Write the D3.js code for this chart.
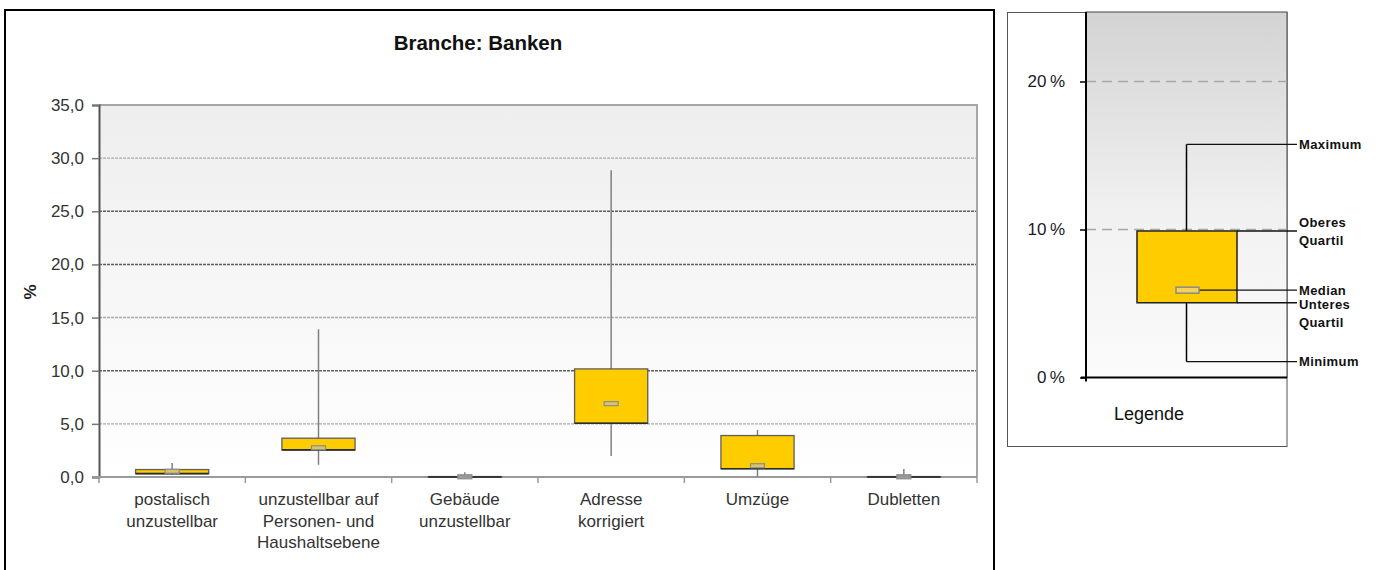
<!DOCTYPE html>
<html>
<head>
<meta charset="utf-8">
<script src="https://cdn.jsdelivr.net/npm/d3@7"></script>
<style>
  body { margin: 0; background: #fff; }
  text { font-family: "Liberation Sans", Arial, sans-serif; }
</style>
</head>
<body>
<svg class="chart"></svg>
<script>
// ---- data ----
var categories = [
    ["postalisch", "unzustellbar"],
    ["unzustellbar auf", "Personen- und", "Haushaltsebene"],
    ["Gebäude", "unzustellbar"],
    ["Adresse", "korrigiert"],
    ["Umzüge"],
    ["Dubletten"]
];
var minVals    = [0.20, 1.15, 0.00, 1.98, 0.00, 0.00];
var q1Vals     = [0.32, 2.55, 0.00, 5.06, 0.78, 0.00];
var medianVals = [0.54, 2.75, 0.02, 6.90, 1.06, 0.02];
var q3Vals     = [0.70, 3.65, 0.04, 10.17, 3.90, 0.04];
var maxVals    = [1.32, 13.90, 0.45, 28.85, 4.43, 0.75];
var yTicks = [0, 5, 10, 15, 20, 25, 30, 35];
var darkGrid = [10, 20, 25];

var legendTicks = [0, 10, 20];
var legendNames = ["Minimum", "Unteres|Quartil", "Median", "Oberes|Quartil", "Maximum"];
var legendValues = [1.07, 5.05, 5.9, 9.9, 15.75];

(function show() {
    'use strict';

    var W = 1376, H = 570;
    var svg = d3.select(".chart").attr("width", W).attr("height", H);
    var defs = svg.append("defs");

    var g1 = defs.append("linearGradient").attr("id", "bgMain")
        .attr("x1", 0).attr("y1", 0).attr("x2", 0).attr("y2", 1);
    g1.append("stop").attr("offset", "0%").attr("stop-color", "#eeeeee");
    g1.append("stop").attr("offset", "100%").attr("stop-color", "#ffffff");

    var g2 = defs.append("linearGradient").attr("id", "bgLeg")
        .attr("x1", 0).attr("y1", 0).attr("x2", 0).attr("y2", 1);
    g2.append("stop").attr("offset", "0%").attr("stop-color", "#d3d3d3");
    g2.append("stop").attr("offset", "55%").attr("stop-color", "#f1f1f1");
    g2.append("stop").attr("offset", "100%").attr("stop-color", "#fbfbfb");

    var de = d3.formatLocale({decimal: ",", thousands: ".", grouping: [3], currency: ["", "€"]});
    var fmt = de.format(".1f");

    // ---- main chart ----
    svg.append("rect").attr("x", 5).attr("y", 10).attr("width", 989).attr("height", 575)
        .attr("fill", "#fff").attr("stroke", "#000").attr("stroke-width", 2);

    var plot = {left: 99, right: 977, top: 105, bottom: 477};

    var x = d3.scaleBand().domain(d3.range(categories.length))
        .range([plot.left, plot.right]).paddingInner(0).paddingOuter(0);
    var y = d3.scaleLinear().domain([0, 35]).range([plot.bottom, plot.top]);

    svg.append("rect").attr("x", plot.left).attr("y", plot.top)
        .attr("width", plot.right - plot.left).attr("height", plot.bottom - plot.top)
        .attr("fill", "url(#bgMain)");

    // gridlines
    svg.append("g").selectAll("line").data(yTicks.filter(function(d) { return d > 0 && d < 35; }))
        .enter().append("line")
        .attr("x1", plot.left).attr("x2", plot.right)
        .attr("y1", function(d) { return y(d); }).attr("y2", function(d) { return y(d); })
        .attr("stroke", function(d) { return darkGrid.indexOf(d) >= 0 ? "#5e5e5e" : "#aaaaaa"; })
        .attr("stroke-width", 1.4)
        .attr("stroke-dasharray", "3,1");

    // frame top/right
    svg.append("path")
        .attr("d", "M" + plot.left + "," + plot.top + "H" + plot.right + "V" + plot.bottom)
        .attr("fill", "none").attr("stroke", "#a6a6a6").attr("stroke-width", 2);

    // y axis
    var yAxis = svg.append("g").attr("transform", "translate(" + plot.left + ",0)")
        .call(d3.axisLeft(y).tickValues(yTicks).tickFormat(fmt).tickSize(7).tickPadding(8));
    yAxis.select(".domain").attr("stroke", "#555").attr("stroke-width", 2);
    yAxis.selectAll(".tick line").attr("stroke", "#777").attr("stroke-width", 1.5);
    yAxis.selectAll(".tick text").attr("fill", "#333").style("font-size", "17px")
        .style("font-family", "'Liberation Sans', Arial, sans-serif");

    // x axis
    svg.append("line").attr("x1", plot.left - 7).attr("x2", plot.right)
        .attr("y1", plot.bottom).attr("y2", plot.bottom)
        .attr("stroke", "#9a9a9a").attr("stroke-width", 2);
    svg.append("g").selectAll("line").data(d3.range(categories.length + 1))
        .enter().append("line")
        .attr("x1", function(d) { return plot.left + d * x.bandwidth(); })
        .attr("x2", function(d) { return plot.left + d * x.bandwidth(); })
        .attr("y1", plot.bottom).attr("y2", plot.bottom + 6)
        .attr("stroke", "#9a9a9a").attr("stroke-width", 1.5);

    // category labels
    var lab = svg.append("g").selectAll("text").data(categories).enter().append("text")
        .attr("text-anchor", "middle")
        .attr("fill", "#333")
        .style("font-size", "17px");
    lab.each(function(lines, i) {
        var t = d3.select(this);
        lines.forEach(function(l, k) {
            t.append("tspan").attr("x", x(i) + x.bandwidth() / 2)
                .attr("y", 505 + k * 21.5).text(l);
        });
    });

    // boxes
    var bw = x.bandwidth() * 0.5;
    var boxes = svg.append("g").selectAll("g").data(categories).enter().append("g");
    boxes.append("line")
        .attr("x1", function(d, i) { return x(i) + x.bandwidth() / 2; })
        .attr("x2", function(d, i) { return x(i) + x.bandwidth() / 2; })
        .attr("y1", function(d, i) { return y(maxVals[i]); })
        .attr("y2", function(d, i) { return y(minVals[i]); })
        .attr("stroke", "#808080").attr("stroke-width", 1.5);
    boxes.append("rect")
        .attr("x", function(d, i) { return x(i) + (x.bandwidth() - bw) / 2; })
        .attr("width", bw)
        .attr("y", function(d, i) { return y(q3Vals[i]); })
        .attr("height", function(d, i) { return Math.max(0.5, y(q1Vals[i]) - y(q3Vals[i])); })
        .attr("fill", "#ffcc00").attr("stroke", "#5e5e5e").attr("stroke-width", 1.3);
    boxes.append("line")
        .attr("x1", function(d, i) { return x(i) + (x.bandwidth() - bw) / 2; })
        .attr("x2", function(d, i) { return x(i) + (x.bandwidth() + bw) / 2; })
        .attr("y1", function(d, i) { return y(q1Vals[i]); })
        .attr("y2", function(d, i) { return y(q1Vals[i]); })
        .attr("stroke", "#2a2a2a").attr("stroke-width", 1.6);
    boxes.append("rect")
        .attr("x", function(d, i) { return x(i) + x.bandwidth() / 2 - 7; })
        .attr("width", 14)
        .attr("y", function(d, i) { return y(medianVals[i]) - 2; })
        .attr("height", 4)
        .attr("fill", function(d, i) { return q3Vals[i] - q1Vals[i] < 0.2 ? "#9a9a9a" : "#d9c46e"; })
        .attr("stroke", "#8c8c8c").attr("stroke-width", 1.2);

    // title and y label
    svg.append("text").attr("x", 478).attr("y", 50).attr("text-anchor", "middle")
        .attr("font-weight", "bold").style("font-size", "20.5px").attr("fill", "#111")
        .text("Branche: Banken");
    svg.append("text").attr("transform", "translate(36,292) rotate(-90)")
        .attr("text-anchor", "middle").attr("font-weight", "bold")
        .style("font-size", "17px").attr("fill", "#222").text("%");

    // ---- legend ----
    var L = {left: 1086, right: 1287, top: 12, bottom: 377.5};
    svg.append("rect").attr("x", 1007.5).attr("y", 12.5).attr("width", 279.5).attr("height", 434)
        .attr("fill", "#fff").attr("stroke", "#555").attr("stroke-width", 1);
    svg.append("rect").attr("x", L.left).attr("y", L.top)
        .attr("width", L.right - L.left).attr("height", L.bottom - L.top)
        .attr("fill", "url(#bgLeg)").attr("stroke", "#444").attr("stroke-width", 1);

    var ly = d3.scaleLinear().domain([0, 10]).range([L.bottom, L.bottom - 148]);

    svg.append("g").selectAll("line").data(legendTicks.filter(function(d) { return d > 0; }))
        .enter().append("line")
        .attr("x1", L.left).attr("x2", L.right)
        .attr("y1", function(d) { return ly(d); }).attr("y2", function(d) { return ly(d); })
        .attr("stroke", "#a8a8a8").attr("stroke-width", 1.3).attr("stroke-dasharray", "10,6");

    var la = svg.append("g").attr("transform", "translate(" + L.left + ",0)")
        .call(d3.axisLeft(ly).tickValues(legendTicks)
            .tickFormat(function(d) { return d + "\u2009%"; }).tickSize(6).tickPadding(15));
    la.select(".domain").remove();
    la.selectAll(".tick line").attr("stroke", "#000").attr("stroke-width", 1.5);
    la.selectAll(".tick text").attr("fill", "#1a1a2a").style("font-size", "17px")
        .style("font-family", "'Liberation Sans', Arial, sans-serif");
    svg.append("line").attr("x1", L.left).attr("x2", L.left)
        .attr("y1", L.top).attr("y2", L.bottom + 4).attr("stroke", "#000").attr("stroke-width", 2);
    svg.append("line").attr("x1", L.left - 5).attr("x2", L.right)
        .attr("y1", L.bottom).attr("y2", L.bottom).attr("stroke", "#000").attr("stroke-width", 2);

    var cx = 1186.5, bl = 1137, br = 1237, lx = 1297;
    var lv = legendValues; // min, q1, median, q3, max
    svg.append("line").attr("x1", cx).attr("x2", cx)
        .attr("y1", ly(lv[4])).attr("y2", ly(lv[0])).attr("stroke", "#000").attr("stroke-width", 1.5);
    svg.append("rect").attr("x", bl).attr("width", br - bl)
        .attr("y", ly(lv[3])).attr("height", ly(lv[1]) - ly(lv[3]))
        .attr("fill", "#ffcc00").attr("stroke", "#222").attr("stroke-width", 1.5);

    // connectors
    var starts = [cx, br, cx, br, cx];
    svg.append("g").selectAll("line").data(lv).enter().append("line")
        .attr("x1", function(d, i) { return starts[i]; }).attr("x2", lx)
        .attr("y1", function(d) { return ly(d); }).attr("y2", function(d) { return ly(d); })
        .attr("stroke", "#111").attr("stroke-width", 1.3);

    svg.append("rect").attr("x", 1176).attr("width", 23)
        .attr("y", ly(lv[2]) - 3).attr("height", 6)
        .attr("fill", "#f3d35a").attr("stroke", "#8a8a8a").attr("stroke-width", 1.5);

    var lshift = [0, 2, 0, -8, 0];
    svg.append("g").selectAll("text").data(legendNames).enter().append("text")
        .attr("font-weight", "bold").style("font-size", "13px").attr("fill", "#111")
        .style("letter-spacing", "0.4px")
        .each(function(d, i) {
            var t = d3.select(this);
            d.split("|").forEach(function(s, k) {
                t.append("tspan").attr("x", lx + 2)
                    .attr("y", ly(lv[i]) + lshift[i] + 4.5 + k * 17.5).text(s);
            });
        });

    svg.append("text").attr("x", 1149).attr("y", 420).attr("text-anchor", "middle")
        .style("font-size", "18px").attr("fill", "#111").text("Legende");
})();
</script>
</body>
</html>
